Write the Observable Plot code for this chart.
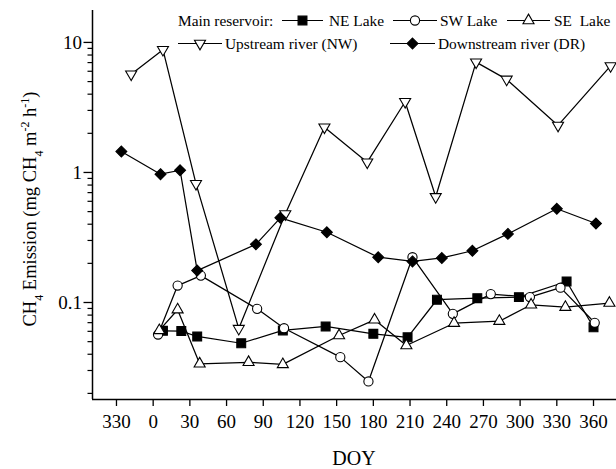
<!DOCTYPE html>
<html><head><meta charset="utf-8">
<script src="https://cdn.jsdelivr.net/npm/d3@7"></script>
<script src="https://cdn.jsdelivr.net/npm/@observablehq/plot@0.6"></script>
<style>
body{margin:0;background:#fff;}
#chart svg{display:block;}
</style></head><body><div id="chart"></div>
<script>
// DOY on a continuous axis: negative values are days of the previous year (330 = -30)
const neDoy = [8, 23, 36, 72, 106, 141, 180, 208, 232, 265, 299, 338, 360];
const neVal = [0.0606, 0.0603, 0.0548, 0.0486, 0.061, 0.0654, 0.0574, 0.054, 0.105, 0.108, 0.11, 0.145, 0.0645];
const swDoy = [4, 20, 39, 85, 107, 153, 176, 212, 245, 276, 308, 333, 361];
const swVal = [0.0567, 0.135, 0.161, 0.0894, 0.0634, 0.038, 0.0247, 0.223, 0.0818, 0.116, 0.11, 0.13, 0.0698];
const seDoy = [5, 20, 38, 78, 106, 152, 181, 207, 246, 283, 309, 337, 373];
const seVal = [0.061, 0.088, 0.0338, 0.0347, 0.0334, 0.0557, 0.0736, 0.0467, 0.0693, 0.0718, 0.096, 0.092, 0.099];
const nwDoy = [-18, 8, 35, 70, 108, 140, 175, 206, 231, 264, 289, 331, 374];
const nwVal = [5.7, 8.8, 0.82, 0.063, 0.48, 2.23, 1.2, 3.5, 0.65, 7.05, 5.2, 2.3, 6.6];
const drDoy = [-26, 6, 22, 36, 84, 104, 142, 184, 212, 236, 261, 290, 330, 362];
const drVal = [1.45, 0.97, 1.04, 0.176, 0.28, 0.448, 0.347, 0.223, 0.207, 0.22, 0.25, 0.337, 0.526, 0.405];

const seriesNames = ["NE Lake", "SW Lake", "SE  Lake", "Upstream river (NW)", "Downstream river (DR)"];
const legendTitle = "Main reservoir:";

const xTicks = [-30, 0, 30, 60, 90, 120, 150, 180, 210, 240, 270, 300, 330, 360];
const xTickLabels = ["330", "0", "30", "60", "90", "120", "150", "180", "210", "240", "270", "300", "330", "360"];
const yTicks = [0.1, 1, 10];
const yTickLabels = ["0.1", "1", "10"];
const yMinorTicks = [0.02, 0.03, 0.04, 0.05, 0.06, 0.07, 0.08, 0.09, 0.2, 0.3, 0.4, 0.5, 0.6, 0.7, 0.8, 0.9, 2, 3, 4, 5, 6, 7, 8, 9];
const xDomain = [-49.6, 378.8];
const yDomain = [0.01795, 17.6];

const FONT = "'Liberation Serif','Times New Roman',Times,serif";
const styles = [
  {symbol: "square", fill: "#000", r: 5.0, rotate: 0},
  {symbol: "circle", fill: "#fff", r: 4.6, rotate: 0},
  {symbol: "triangle", fill: "#fff", r: 4.1, rotate: 0},
  {symbol: "triangle", fill: "#fff", r: 4.1, rotate: 180},
  {symbol: "diamond2", fill: "#000", r: 4.9, rotate: 0}
];
const doys = [neDoy, swDoy, seDoy, nwDoy, drDoy];
const vals = [neVal, swVal, seVal, nwVal, drVal];
const tables = doys.map((d, i) => d.map((x, j) => ({doy: x, v: vals[i][j]})));

const seriesMarks = [];
tables.forEach((t, i) => {
  seriesMarks.push(Plot.line(t, {x: "doy", y: "v", stroke: "#000", strokeWidth: 1.25}));
  seriesMarks.push(Plot.dot(t, {x: "doy", y: "v", symbol: styles[i].symbol, r: styles[i].r, fill: styles[i].fill, stroke: "#000", strokeWidth: 1.1, rotate: styles[i].rotate}));
});

const plot = Plot.plot({
  width: 616, height: 469,
  marginLeft: 92, marginRight: 0, marginTop: 10, marginBottom: 70,
  style: {fontFamily: FONT, fontSize: "19px", color: "#000", background: "#fff", overflow: "visible"},
  x: {domain: xDomain},
  y: {type: "log", domain: yDomain},
  marks: [
    Plot.axisX({ticks: xTicks, tickFormat: d => xTickLabels[xTicks.indexOf(d)], tickSize: 7, tickPadding: 8, label: null, strokeWidth: 1.3, fontSize: 19}),
    Plot.axisY({ticks: yMinorTicks, tickSize: 4.5, tickFormat: () => "", label: null, strokeWidth: 1.2}),
    Plot.axisY({ticks: yTicks, tickFormat: d => yTickLabels[yTicks.indexOf(d)], tickSize: 8.5, tickPadding: 2, label: null, strokeWidth: 1.3, fontSize: 19}),
    Plot.ruleX([xDomain[0]], {stroke: "#000", strokeWidth: 1.5}),
    Plot.ruleY([yDomain[0]], {stroke: "#000", strokeWidth: 1.5}),
    ...seriesMarks
  ]
});
document.getElementById("chart").appendChild(plot);

// Axis titles and legend
const svg = d3.select(plot);
const yt = svg.append("text")
  .attr("transform", "translate(36,209) rotate(-90)")
  .attr("text-anchor", "middle")
  .attr("font-family", FONT).attr("font-size", 18.5).attr("fill", "#000");
yt.append("tspan").text("CH");
yt.append("tspan").attr("baseline-shift", "sub").attr("font-size", 12).text("4");
yt.append("tspan").text(" Emission (mg CH");
yt.append("tspan").attr("baseline-shift", "sub").attr("font-size", 12).text("4");
yt.append("tspan").text(" m");
yt.append("tspan").attr("baseline-shift", "super").attr("font-size", 12).text("-2");
yt.append("tspan").text(" h");
yt.append("tspan").attr("baseline-shift", "super").attr("font-size", 12).text("-1");
yt.append("tspan").text(")");

svg.append("text").attr("x", 354).attr("y", 465).attr("text-anchor", "middle")
  .attr("font-family", FONT).attr("font-size", 20).attr("fill", "#000").text("DOY");

const lg = svg.append("g").attr("font-family", FONT).attr("font-size", 15.4)
  .attr("fill", "#000").attr("text-anchor", "start");
const symType = {square: d3.symbolSquare, circle: d3.symbolCircle, triangle: d3.symbolTriangle, diamond2: d3.symbolDiamond2};
const legendItems = [
  {row: 20.5, x0: 282, x1: 323, text: 329},
  {row: 20.5, x0: 393, x1: 437, text: 440},
  {row: 20.5, x0: 507, x1: 550, text: 554},
  {row: 43.5, x0: 178, x1: 222, text: 225},
  {row: 43.5, x0: 390, x1: 435, text: 438}
];
lg.append("text").attr("x", 178).attr("y", 20.5).attr("dy", "0.35em").attr("text-anchor", "start").text(legendTitle);
legendItems.forEach((it, i) => {
  const s = styles[i];
  lg.append("line").attr("x1", it.x0).attr("x2", it.x1).attr("y1", it.row).attr("y2", it.row)
    .attr("stroke", "#000").attr("stroke-width", 1.2);
  const cx = (it.x0 + it.x1) / 2;
  if (s.symbol === "circle") {
    lg.append("circle").attr("cx", cx).attr("cy", it.row).attr("r", s.r)
      .attr("fill", s.fill).attr("stroke", "#000").attr("stroke-width", 1.1);
  } else {
    lg.append("path").attr("d", d3.symbol(symType[s.symbol], Math.PI * s.r * s.r)())
      .attr("transform", `translate(${cx},${it.row}) rotate(${s.rotate})`)
      .attr("fill", s.fill).attr("stroke", "#000").attr("stroke-width", 1.1);
  }
  lg.append("text").attr("x", it.text).attr("y", it.row).attr("dy", "0.35em")
    .attr("text-anchor", "start").style("white-space", "pre").text(seriesNames[i]);
});
</script>
</body></html>
